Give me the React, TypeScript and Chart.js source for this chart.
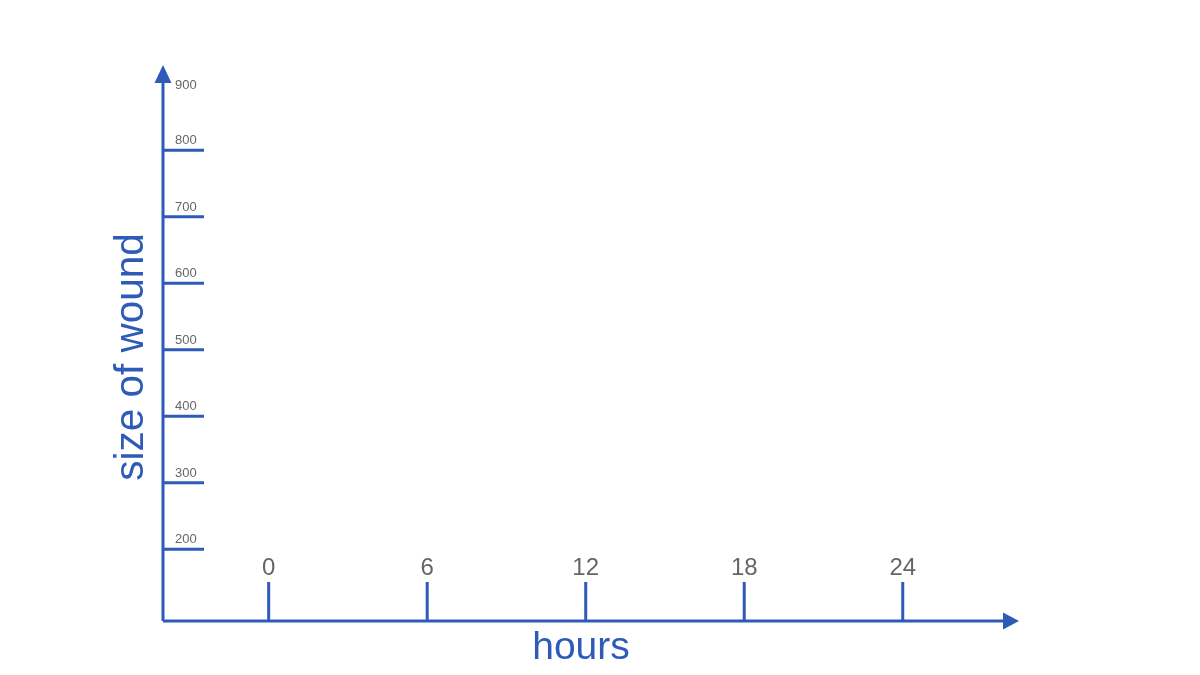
import React, { useEffect, useRef } from "react";
import { Chart, registerables } from "chart.js";

Chart.register(...registerables);

const xTicks: number[] = [0, 6, 12, 18, 24];
const yTicks: number[] = [200, 300, 400, 500, 600, 700, 800, 900];
const yTickLines: number[] = [200, 300, 400, 500, 600, 700, 800];
const xTitle = "hours";
const yTitle = "size of wound";

const BLUE = "#2E5BB8";
const GRAY = "#666666";

const axisPlugin = {
  id: "customAxes",
  afterDraw(chart: any) {
    const ctx = chart.ctx as CanvasRenderingContext2D;
    const xs = chart.scales.x;
    const ys = chart.scales.y;
    const left = xs.getPixelForValue(xs.min);
    const right = xs.getPixelForValue(xs.max);
    const bottom = ys.getPixelForValue(ys.min);
    const top = ys.getPixelForValue(ys.max);
    ctx.save();
    ctx.strokeStyle = BLUE;
    ctx.fillStyle = BLUE;
    ctx.lineWidth = 3;
    // axes
    ctx.beginPath();
    ctx.moveTo(left, bottom);
    ctx.lineTo(left, top + 16);
    ctx.moveTo(left, bottom);
    ctx.lineTo(right - 14, bottom);
    ctx.stroke();
    // arrowheads
    ctx.beginPath();
    ctx.moveTo(left, top);
    ctx.lineTo(left - 8.5, top + 18);
    ctx.lineTo(left + 8.5, top + 18);
    ctx.closePath();
    ctx.fill();
    ctx.beginPath();
    ctx.moveTo(right, bottom);
    ctx.lineTo(right - 16, bottom - 8.5);
    ctx.lineTo(right - 16, bottom + 8.5);
    ctx.closePath();
    ctx.fill();
    // y tick lines
    ctx.beginPath();
    for (const v of yTickLines) {
      const y = ys.getPixelForValue(v);
      ctx.moveTo(left, y);
      ctx.lineTo(left + 41, y);
    }
    // x tick lines
    for (const v of xTicks) {
      const x = xs.getPixelForValue(v);
      ctx.moveTo(x, bottom);
      ctx.lineTo(x, bottom - 39);
    }
    ctx.stroke();
    // y tick labels
    ctx.fillStyle = GRAY;
    ctx.font = "13px 'Liberation Sans', Arial, sans-serif";
    ctx.textAlign = "left";
    ctx.textBaseline = "alphabetic";
    for (const v of yTicks) {
      const y = ys.getPixelForValue(v);
      const hasLine = yTickLines.indexOf(v) >= 0;
      ctx.fillText(String(v), left + 12, hasLine ? y - 6 : y + 5);
    }
    // x tick labels
    ctx.font = "24px 'Liberation Sans', Arial, sans-serif";
    ctx.textAlign = "center";
    for (const v of xTicks) {
      const x = xs.getPixelForValue(v);
      ctx.fillText(String(v), x, bottom - 46);
    }
    // titles
    ctx.fillStyle = BLUE;
    ctx.font = "39px 'Liberation Sans', Arial, sans-serif";
    ctx.textAlign = "center";
    ctx.fillText(xTitle, 581, 659);
    ctx.font = "40.5px 'Liberation Sans', Arial, sans-serif";
    ctx.save();
    ctx.translate(143, 357);
    ctx.rotate(-Math.PI / 2);
    ctx.fillText(yTitle, 0, 0);
    ctx.restore();
    ctx.restore();
  },
};

export default function App() {
  const ref = useRef<HTMLCanvasElement | null>(null);
  useEffect(() => {
    if (!ref.current) return;
    const chart = new Chart(ref.current, {
      type: "scatter",
      data: { datasets: [{ data: [] as any[] }] },
      options: {
        animation: false,
        responsive: false,
        maintainAspectRatio: false,
        layout: { padding: { left: 163, right: 181, top: 65, bottom: 54 } },
        plugins: { legend: { display: false }, tooltip: { enabled: false } },
        scales: {
          x: { type: "linear", min: -4, max: 28.4, display: false },
          y: { type: "linear", min: 92, max: 928, display: false },
        },
      },
      plugins: [axisPlugin],
    });
    return () => chart.destroy();
  }, []);
  return (
    <div style={{ position: "absolute", left: 0, top: 0, width: 1200, height: 675, background: "#fff" }}>
      <canvas ref={ref} width={1200} height={675} style={{ width: 1200, height: 675 }} />
    </div>
  );
}
